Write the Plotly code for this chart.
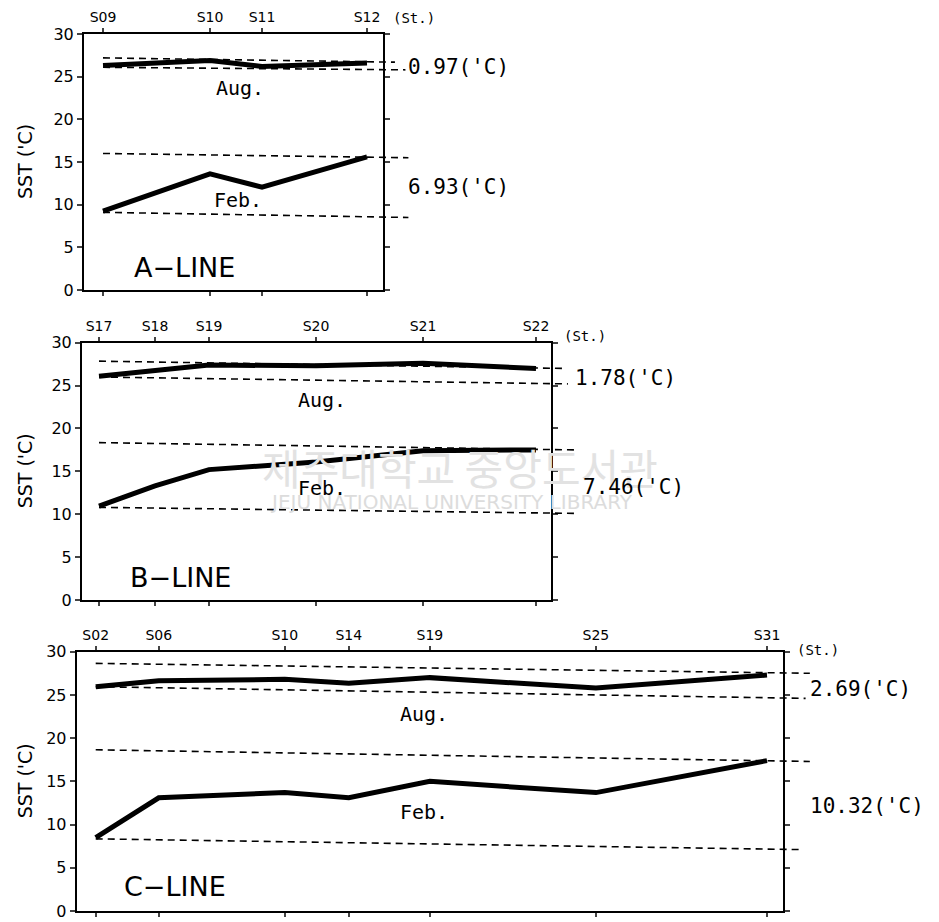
import plotly.graph_objects as go

# ---- data ----
# A-LINE
a_stations = ["S09", "S10", "S11", "S12"]
a_dist = [0, 107, 159, 264]
a_aug = [26.3, 26.9, 26.2, 26.6]
a_feb = [9.25, 13.6, 12.05, 15.6]
a_aug_band = [(27.2, 26.7), (26.1, 25.8)]   # (left, right) of dashed guides
a_feb_band = [(16.0, 15.5), (9.1, 8.5)]
a_diff = ["0.97", "6.93"]

# B-LINE
b_stations = ["S17", "S18", "S19", "S20", "S21", "S22"]
b_dist = [0, 56, 110, 217, 324, 437]
b_aug = [26.1, 26.8, 27.4, 27.3, 27.6, 27.0]
b_feb = [10.95, 13.3, 15.2, 16.1, 17.4, 17.5]
b_aug_band = [(27.85, 27.0), (26.0, 25.2)]
b_feb_band = [(18.35, 17.5), (10.8, 10.1)]
b_diff = ["1.78", "7.46"]

# C-LINE
c_stations = ["S02", "S06", "S10", "S14", "S19", "S25", "S31"]
c_dist = [0, 63, 189, 253, 334, 500, 671]
c_aug = [25.95, 26.65, 26.8, 26.35, 27.0, 25.8, 27.3]
c_feb = [8.5, 13.1, 13.7, 13.1, 15.0, 13.7, 17.4]
c_aug_band = [(28.65, 27.5), (25.95, 24.6)]
c_feb_band = [(18.65, 17.3), (8.35, 7.1)]
c_diff = ["2.69", "10.32"]

# page has an 8px body margin, so the figure is a bit smaller than the window
OFF = 8
W, H = 939 - OFF, 922 - OFF
FONT = "DejaVu Sans"
MONO = "DejaVu Sans Mono"


def px(x):
    return (x - OFF) / W


def py(y):
    return 1 - (y - OFF) / H


panels = [
    dict(st=a_stations, d=a_dist, aug=a_aug, feb=a_feb, aband=a_aug_band, fband=a_feb_band,
         diff=a_diff, xr=[-19, 280], box=(84, 383, 34, 290), name="A\u2212LINE",
         name_xy=(184, 268), aug_xy=(240, 88), feb_xy=(238, 200),
         diff_xy=[(406, 67), (406, 187)], st_xy=(414, 18),
         aend=[1.04, 1.075], fend=[1.085, 1.085]),
    dict(st=b_stations, d=b_dist, aug=b_aug, feb=b_feb, aband=b_aug_band, fband=b_feb_band,
         diff=b_diff, xr=[-17, 452], box=(82, 551, 342.7, 600), name="B\u2212LINE",
         name_xy=(180, 577), aug_xy=(322, 400), feb_xy=(322, 488),
         diff_xy=[(573, 378), (581, 487)], st_xy=(585, 336),
         aend=[1.03, 1.036], fend=[1.05, 1.05]),
    dict(st=c_stations, d=c_dist, aug=c_aug, feb=c_feb, aband=c_aug_band, fband=c_feb_band,
         diff=c_diff, xr=[-19, 687], box=(76.7, 783, 651.7, 911), name="C\u2212LINE",
         name_xy=(175, 886), aug_xy=(424, 714), feb_xy=(424, 812),
         diff_xy=[(808, 689), (808, 806)], st_xy=(818, 650),
         aend=[1.038, 1.032], fend=[1.038, 1.028]),
]

fig = go.Figure()
annotations = []
shapes = []


def label(text, x, y, size, family=FONT, color="black", xanchor="center", angle=0):
    annotations.append(dict(text=text, x=px(x), y=py(y), xref="paper", yref="paper",
                            xanchor=xanchor, yanchor="middle", showarrow=False, textangle=angle,
                            font=dict(family=family, size=size, color=color)))


# faint library watermark from the scan
label("제주대학교 중앙도서관", 460, 466, 42, family="Noto Sans CJK KR", color="#e2e2e2")
label("JEJU NATIONAL UNIVERSITY LIBRARY", 451, 502, 20, color="#dcdcdc")

for i, p in enumerate(panels, start=1):
    xa = "x" if i == 1 else f"x{i}"
    ya = "y" if i == 1 else f"y{i}"
    left, right, top, bottom = p["box"]

    for series in (p["aug"], p["feb"]):
        fig.add_trace(go.Scatter(x=p["d"], y=series, mode="lines", xaxis=xa, yaxis=ya,
                                 line=dict(color="black", width=5), showlegend=False,
                                 hoverinfo="skip"))

    # dashed max/min guides running past the right frame
    x0 = (p["d"][0] - p["xr"][0]) / (p["xr"][1] - p["xr"][0])
    for (yl, yr), xend in list(zip(p["aband"], p["aend"])) + list(zip(p["fband"], p["fend"])):
        shapes.append(dict(type="line", xref=f"{xa} domain", yref=ya, x0=x0, x1=xend,
                           y0=yl, y1=yr, line=dict(color="black", width=1.6, dash="7px,5px")))

    xkey = "xaxis" if i == 1 else f"xaxis{i}"
    ykey = "yaxis" if i == 1 else f"yaxis{i}"
    fig.update_layout(**{
        xkey: dict(domain=[px(left), px(right)], anchor=ya, range=p["xr"], side="top",
                   tickvals=p["d"], ticktext=p["st"], ticks="outside", ticklen=4, tickwidth=1.5,
                   showline=True, linecolor="black", linewidth=2, mirror="ticks",
                   showgrid=False, zeroline=False, automargin=False,
                   tickfont=dict(family=FONT, size=14, color="black")),
        ykey: dict(domain=[py(bottom), py(top)], anchor=xa, range=[0, 30],
                   tickvals=[0, 5, 10, 15, 20, 25, 30], ticks="outside", ticklen=5, tickwidth=1.5,
                   showline=True, linecolor="black", linewidth=2, mirror="ticks",
                   showgrid=False, zeroline=False, automargin=False,
                   tickfont=dict(family=FONT, size=16, color="black")),
    })

    label("SST ('C)", 25, (top + bottom) / 2, 19, angle=-90)
    label(p["name"], *p["name_xy"], 27)
    label("Aug.", *p["aug_xy"], 20, family=MONO)
    label("Feb.", *p["feb_xy"], 20, family=MONO)
    label("(St.)", *p["st_xy"], 14, family=MONO)
    for txt, (tx, ty) in zip(p["diff"], p["diff_xy"]):
        label(f"{txt}('C)", tx, ty, 21, family=MONO, xanchor="left")

fig.update_layout(
    width=W, height=H,
    margin=dict(l=0, r=0, t=0, b=0),
    paper_bgcolor="white", plot_bgcolor="white",
    showlegend=False,
    annotations=annotations,
    shapes=shapes,
)

fig.write_html("out.html")
